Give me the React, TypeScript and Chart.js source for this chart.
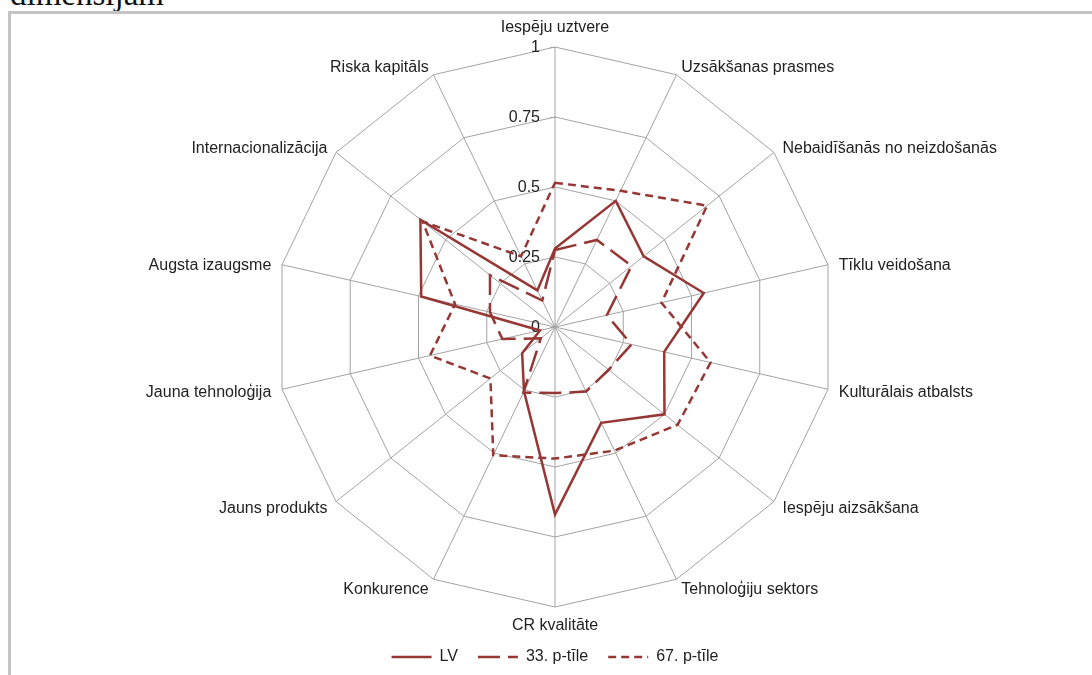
import React, { useEffect, useRef } from "react";
import { Chart, registerables } from "chart.js";

Chart.register(...registerables);

const categories = [
  "Iespēju uztvere",
  "Uzsākšanas prasmes",
  "Nebaidīšanās no neizdošanās",
  "Tīklu veidošana",
  "Kulturālais atbalsts",
  "Iespēju aizsākšana",
  "Tehnoloģiju sektors",
  "CR kvalitāte",
  "Konkurence",
  "Jauns produkts",
  "Jauna tehnoloģija",
  "Augsta izaugsme",
  "Internacionalizācija",
  "Riska kapitāls",
];

const seriesNames = ["LV", "33. p-tīle", "67. p-tīle"];
const lvValues = [0.28, 0.5, 0.405, 0.545, 0.4, 0.5, 0.38, 0.67, 0.255, 0.15, 0.055, 0.49, 0.615, 0.145];
const p33Values = [0.275, 0.345, 0.35, 0.19, 0.28, 0.245, 0.256, 0.236, 0.26, 0.065, 0.193, 0.238, 0.297, 0.105];
const p67Values = [0.515, 0.54, 0.695, 0.39, 0.57, 0.56, 0.49, 0.47, 0.508, 0.295, 0.458, 0.366, 0.605, 0.28];
const tickLabels = ["0", "0.25", "0.5", "0.75", "1"];

const RED = "#953735";
const GRID = "#a3a3a3";
const TEXT = "#222222";
const FONT = "'Liberation Sans', Arial, sans-serif";

const labelPlugin = {
  id: "customLabels",
  beforeDatasetsDraw(chart: any) {
    const scale = chart.scales.r;
    const ctx = chart.ctx;
    ctx.save();
    ctx.font = `16px ${FONT}`;
    ctx.fillStyle = TEXT;
    // tick labels and tick marks
    scale.ticks.forEach((t: any, i: number) => {
      const p = scale.getPointPositionForValue(0, t.value);
      ctx.textAlign = "right";
      ctx.textBaseline = "middle";
      ctx.fillText(tickLabels[i] ?? t.label, p.x - 15, p.y + 1);
      ctx.strokeStyle = GRID;
      ctx.lineWidth = 1;
      ctx.beginPath();
      ctx.moveTo(p.x - 5, p.y + 0.5);
      ctx.lineTo(p.x, p.y + 0.5);
      ctx.stroke();
    });
    // point labels
    const R = scale.drawingArea;
    categories.forEach((label, i) => {
      const angle = scale.getIndexAngle(i);
      const s = Math.sin(angle);
      const p = scale.getPointPosition(i, R + 11);
      let y = p.y;
      if (Math.abs(s) < 0.05) {
        ctx.textAlign = "center";
        ctx.textBaseline = Math.cos(angle) > 0 ? "bottom" : "top";
      } else {
        ctx.textAlign = s > 0 ? "left" : "right";
        ctx.textBaseline = "middle";
        y += Math.cos(angle) > 0 ? 3 : 0.5;
      }
      ctx.fillText(label, p.x, y);
    });
    ctx.restore();
  },
};

export default function App() {
  const canvasRef = useRef<HTMLCanvasElement | null>(null);

  useEffect(() => {
    if (!canvasRef.current) return;
    const mk = (label: string, data: number[], dash: number[]) => ({
      label,
      data,
      borderColor: RED,
      backgroundColor: RED,
      borderWidth: 2.5,
      borderDash: dash,
      fill: false,
      pointRadius: 0,
      pointHoverRadius: 0,
      tension: 0,
    });
    const chart = new Chart(canvasRef.current, {
      type: "radar",
      data: {
        labels: categories,
        datasets: [
          mk(seriesNames[0], lvValues, []),
          mk(seriesNames[1], p33Values, [22, 8]),
          mk(seriesNames[2], p67Values, [8, 5]),
        ],
      },
      options: {
        responsive: false,
        animation: false,
        devicePixelRatio: 1,
        layout: { padding: { left: 275, right: 257, top: 25, bottom: 0 } },
        scales: {
          r: {
            min: 0,
            max: 1,
            ticks: { stepSize: 0.25, display: false },
            grid: { color: GRID, lineWidth: 1 },
            angleLines: { color: GRID, lineWidth: 1 },
            pointLabels: { display: false },
          },
        },
        plugins: {
          tooltip: { enabled: false },
          legend: {
            position: "bottom",
            labels: {
              usePointStyle: true,
              pointStyle: "line",
              pointStyleWidth: 40,
              padding: 20,
              color: TEXT,
              font: { family: FONT, size: 16 },
              generateLabels: (ch: any) => {
                const items = (Chart.defaults as any).plugins.legend.labels.generateLabels(ch);
                items.forEach((it: any, i: number) => {
                  const ds = ch.data.datasets[i];
                  it.lineDash = ds.borderDash;
                  it.lineWidth = ds.borderWidth;
                  it.strokeStyle = ds.borderColor;
                  it.pointStyle = "line";
                });
                return items;
              },
            },
          },
        },
      } as any,
      plugins: [labelPlugin],
    });
    return () => chart.destroy();
  }, []);

  return (
    <div style={{ position: "fixed", inset: 0, overflow: "hidden", background: "#fff" }}>
      <div
        style={{
          position: "absolute",
          left: 10,
          top: -22,
          fontFamily: "'Liberation Serif', 'DejaVu Serif', serif",
          fontSize: 33,
          lineHeight: "33px",
          color: "#111",
          whiteSpace: "nowrap",
        }}
      >
        dimensijām
      </div>
      <div
        style={{
          position: "absolute",
          left: 8,
          top: 11,
          width: 1200,
          height: 800,
          borderLeft: "3px solid #c4c4c4",
          borderTop: "3px solid #c4c4c4",
        }}
      />
      <canvas
        ref={canvasRef}
        width={1092}
        height={675}
        style={{ position: "absolute", left: 0, top: 0, width: 1092, height: 675 }}
      />
    </div>
  );
}
